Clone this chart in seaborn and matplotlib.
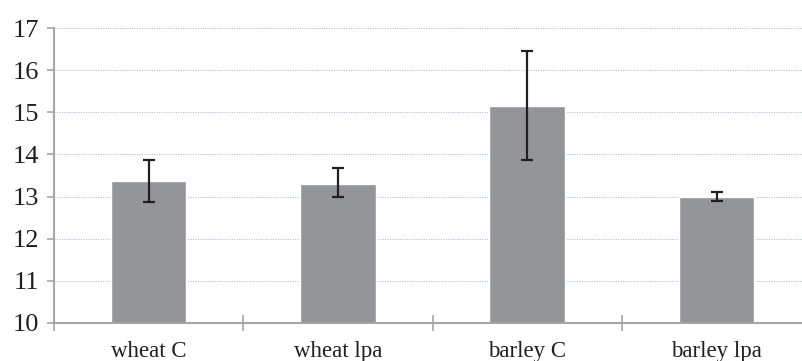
import matplotlib
matplotlib.use("Agg")
import matplotlib.pyplot as plt
import seaborn as sns
import pandas as pd
import numpy as np

categories = ["wheat C", "wheat lpa", "barley C", "barley lpa"]
means = [13.38, 13.31, 15.14, 13.00]
err_low = [0.50, 0.33, 1.28, 0.10]
err_high = [0.50, 0.36, 1.31, 0.12]
yticks = [10, 11, 12, 13, 14, 15, 16, 17]

sns.set_theme(style="white")
plt.rcParams['font.family'] = ['Liberation Serif', 'DejaVu Serif']

df = pd.DataFrame({"cat": categories, "val": means})

fig = plt.figure(figsize=(8.03, 3.61), dpi=100)
ax = fig.add_axes([0.0672, 0.1053, 0.943, 0.817])

sns.barplot(data=df, x="cat", y="val", color="#939598", saturation=1,
            width=0.4, ax=ax, errorbar=None)
ax.errorbar(x=np.arange(len(categories)), y=means, yerr=[err_low, err_high],
            fmt="none", ecolor="#231f20", elinewidth=1.6, capsize=4.5, capthick=1.6, zorder=5)

ax.set_ylim(10, 17)
ax.set_xlim(-0.5, 3.5)
ax.set_yticks(yticks)
ax.set_yticklabels([str(t) for t in yticks], fontsize=19, color="#231f20")
ax.set_xticks(range(len(categories)))
ax.set_xticklabels(categories, fontsize=16.5, color="#231f20")
ax.set_xticks([-0.5, 0.5, 1.5, 2.5, 3.5], minor=True)
ax.tick_params(axis="x", which="major", length=0, pad=13)
ax.tick_params(axis="x", which="minor", bottom=True, length=12, width=1.2,
               direction="inout", color="#a6a6a6")
ax.tick_params(axis="y", which="major", length=5, width=1.2, color="#a6a6a6", left=True, pad=6)
ax.set_xlabel("")
ax.set_ylabel("")

for y in yticks[1:]:
    ax.axhline(y, color="#9db5de", linestyle=(0, (1, 1.5)), linewidth=0.7, zorder=0)

for s in ["top", "right"]:
    ax.spines[s].set_visible(False)
for s in ["left", "bottom"]:
    ax.spines[s].set_color("#a6a6a6")
    ax.spines[s].set_linewidth(1.5)
ax.set_axisbelow(True)

fig.savefig("out.png", dpi=100)
